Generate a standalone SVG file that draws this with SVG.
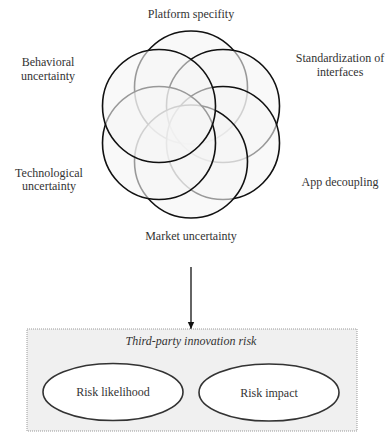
<svg xmlns="http://www.w3.org/2000/svg" width="389" height="433" viewBox="0 0 389 433">
<style>
text{font-family:"Liberation Serif","Times New Roman",serif;font-size:12px;fill:#333;text-anchor:middle}
.c{fill:#f5f5f5;fill-opacity:0.6;stroke:#111;stroke-width:1.6}
.e{fill:#fff;stroke:#333;stroke-width:1.6}
</style>
<defs>
<marker id="ah" markerWidth="8" markerHeight="8" refX="7" refY="4" orient="auto" markerUnits="userSpaceOnUse">
<path d="M0,0.8 L7,4 L0,7.2 Z" fill="#111"/>
</marker>
</defs>
<rect width="389" height="433" fill="#fff"/>
<g id="platform"><circle class="c" cx="191" cy="87.5" r="56.5"/><text x="191" y="18">Platform specifity</text></g>
<g id="standardization"><circle class="c" cx="223" cy="106" r="56.5"/><text x="340" y="62">Standardization of</text><text x="340" y="76">interfaces</text></g>
<g id="app"><circle class="c" cx="223" cy="143" r="56.5"/><text x="340" y="186">App decoupling</text></g>
<g id="market"><circle class="c" cx="191" cy="161.5" r="56.5"/><text x="191" y="240">Market uncertainty</text></g>
<g id="technological"><circle class="c" cx="159" cy="143" r="56.5"/><text x="49" y="177">Technological</text><text x="49" y="190">uncertainty</text></g>
<g id="behavioral"><circle class="c" cx="159" cy="106" r="56.5"/><text x="48" y="66">Behavioral</text><text x="48" y="80">uncertainty</text></g>
<g id="connectors"><line x1="191" y1="267" x2="191" y2="329" stroke="#111" stroke-width="1.3" marker-end="url(#ah)"/></g>
<g id="risk"><rect x="27" y="329" width="330" height="102" fill="#f0f0f0" stroke="#999" stroke-width="1" stroke-dasharray="1,1"/><text x="191" y="345" font-style="italic">Third-party innovation risk</text></g>
<g id="likelihood"><ellipse class="e" cx="113" cy="392" rx="70" ry="28.5"/><text x="113" y="396">Risk likelihood</text></g>
<g id="impact"><ellipse class="e" cx="269" cy="392.5" rx="70" ry="28.5"/><text x="269" y="396.5">Risk impact</text></g>
</svg>
